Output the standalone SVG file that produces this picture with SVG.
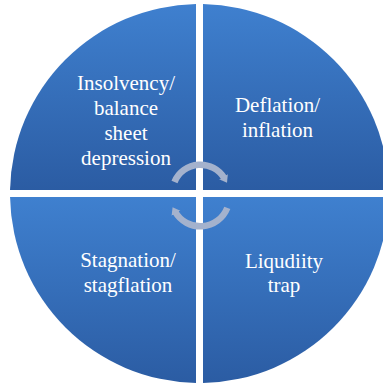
<svg xmlns="http://www.w3.org/2000/svg" width="383" height="386" viewBox="0 0 383 386">
  <defs>
    <linearGradient id="qg" x1="0" y1="0" x2="0" y2="1">
      <stop offset="0" stop-color="#3f80cf"/>
      <stop offset="1" stop-color="#2b5ca3"/>
    </linearGradient>
    <marker id="ah" markerUnits="userSpaceOnUse" markerWidth="12" markerHeight="12" refX="2" refY="6" orient="auto">
      <path d="M0,1 L7,6 L0,11 Z" fill="#a4b2cd"/>
    </marker>
  </defs>
  <style>
    .q { fill: url(#qg); }
    .t { font-size: 21px; fill: #ffffff; text-anchor: middle; }
    .arc { fill: none; stroke: #a4b2cd; stroke-width: 6.5; marker-end: url(#ah); }
  </style>
  <rect width="383" height="386" fill="#ffffff"/>
  <g id="node-insolvency" font-family="'Liberation Serif', 'DejaVu Serif', serif">
    <path class="q" d="M196,190 L196,4.03 A189.5,189.5 0 0,0 10.03,190 Z"/>
    <text class="t" x="126" y="90">Insolvency/</text>
    <text class="t" x="126" y="115">balance</text>
    <text class="t" x="126" y="140">sheet</text>
    <text class="t" x="126" y="165">depression</text>
  </g>
  <g id="node-deflation" font-family="'Liberation Serif', 'DejaVu Serif', serif">
    <path class="q" d="M203,190 L388.97,190 A189.5,189.5 0 0,0 203,4.03 Z"/>
    <text class="t" x="277.5" y="112">Deflation/</text>
    <text class="t" x="277.5" y="137">inflation</text>
  </g>
  <g id="node-stagnation" font-family="'Liberation Serif', 'DejaVu Serif', serif">
    <path class="q" d="M196,197 L10.03,197 A189.5,189.5 0 0,0 196,382.97 Z"/>
    <text class="t" x="128" y="267">Stagnation/</text>
    <text class="t" x="128" y="292">stagflation</text>
  </g>
  <g id="node-liquidity" font-family="'Liberation Serif', 'DejaVu Serif', serif">
    <path class="q" d="M203,197 L203,382.97 A189.5,189.5 0 0,0 388.97,197 Z"/>
    <text class="t" x="284" y="268">Liqudiity</text>
    <text class="t" x="284" y="292">trap</text>
  </g>
  <g id="connectors">
    <path class="arc" d="M174.5,181.9 A28,28 0 0,1 224.5,178.5"/>
    <path class="arc" d="M227.3,207.9 A29,29 0 0,1 175,211.5"/>
  </g>
</svg>
